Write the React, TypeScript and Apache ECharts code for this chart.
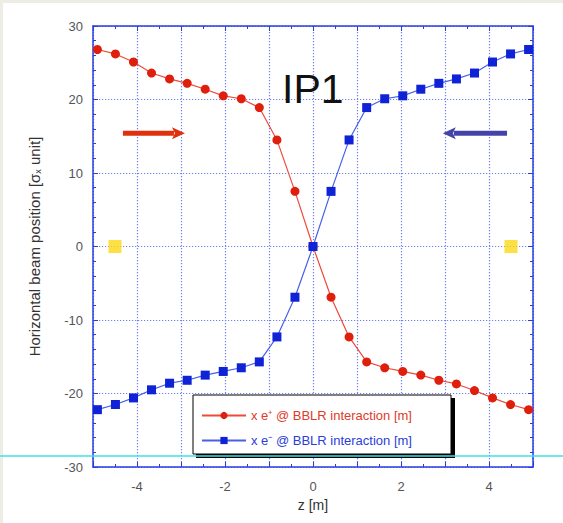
import React, { useEffect, useRef } from "react";
import * as echarts from "echarts";

const zPositions = [-4.9, -4.49, -4.08, -3.67, -3.26, -2.86, -2.45, -2.04, -1.63, -1.22, -0.82, -0.41, 0, 0.41, 0.82, 1.22, 1.63, 2.04, 2.45, 2.86, 3.26, 3.67, 4.08, 4.49, 4.9];
const ePlus = [26.8, 26.2, 25.1, 23.6, 22.8, 22.2, 21.4, 20.5, 20.1, 18.9, 14.5, 7.5, 0, -6.9, -12.3, -15.7, -16.5, -17.0, -17.5, -18.2, -18.7, -19.6, -20.6, -21.5, -22.2];
const eMinus = [-22.2, -21.5, -20.6, -19.5, -18.6, -18.2, -17.5, -17.0, -16.5, -15.7, -12.3, -6.9, 0, 7.5, 14.5, 18.9, 20.1, 20.5, 21.4, 22.2, 22.8, 23.6, 25.1, 26.2, 26.8];
const ipMarkers = [[-4.5, 0], [4.5, 0]];
// arrows: [fromZ, fromY, toZ, toY]
const arrows = [
  [-4.32, 15.4, -2.91, 15.4],
  [4.41, 15.4, 2.95, 15.4],
];
const arrowColors = ["#e0300e", "#4444a8"];
const xTicks = [-4, -2, 0, 2, 4];
const seriesNames = ["x e\u207A @ BBLR interaction [m]", "x e\u207B @ BBLR interaction [m]"];

const FONT = "Liberation Sans, Arial, Helvetica, sans-serif";
const AXIS_BLUE = "#2a3ee0";
const GRID_BLUE = "#6f7ff0";

export default function App() {
  const ref = useRef<HTMLDivElement>(null);
  useEffect(() => {
    if (!ref.current) return;
    const chart = echarts.init(ref.current, null, { renderer: "svg" });
    const tickCommon = {
      axisLine: { show: true, onZero: false, lineStyle: { color: AXIS_BLUE, width: 1.5 } },
      axisTick: { show: true, inside: true, length: 5, lineStyle: { color: AXIS_BLUE } },
    };
    const gridLine = { show: true, lineStyle: { color: GRID_BLUE, type: [1.2, 1.8], width: 1.2 } };
    chart.setOption({
      animation: false,
      backgroundColor: "transparent",
      textStyle: { fontFamily: FONT },
      grid: { left: 93, right: 30, top: 26, bottom: 56, containLabel: false },
      legend: {
        data: [
          { name: seriesNames[0], textStyle: { color: "#e03a2a" } },
          { name: seriesNames[1], textStyle: { color: "#2a3ed8" } },
        ],
        orient: "vertical",
        left: 201,
        top: 409,
        itemWidth: 44,
        itemHeight: 9,
        itemGap: 12,
        padding: 0,
        z: 10,
        textStyle: { fontSize: 13, fontFamily: FONT },
      },
      xAxis: [
        {
          type: "value",
          min: -5,
          max: 5,
          interval: 1,
          name: "z [m]",
          nameLocation: "middle",
          nameGap: 31,
          nameTextStyle: { color: "#333", fontSize: 14, fontFamily: FONT },
          ...tickCommon,
          minorTick: { show: true, splitNumber: 2, length: 3, lineStyle: { color: AXIS_BLUE } },
          axisLabel: {
            color: "#555",
            fontSize: 13,
            margin: 13,
            formatter: (v: number) => (xTicks.indexOf(Math.round(v)) >= 0 && Math.abs(v - Math.round(v)) < 1e-6 ? String(Math.round(v)) : ""),
          },
          splitLine: gridLine,
        },
        {
          type: "value",
          position: "top",
          min: -5,
          max: 5,
          interval: 1,
          ...tickCommon,
          minorTick: { show: true, splitNumber: 2, length: 3, lineStyle: { color: AXIS_BLUE } },
          axisLabel: { show: false },
          splitLine: { show: false },
        },
      ],
      yAxis: [
        {
          type: "value",
          min: -30,
          max: 30,
          interval: 10,
          name: "Horizontal beam position [\u03C3{sub|x} unit]",
          nameLocation: "middle",
          nameRotate: 90,
          nameGap: 51,
          nameTextStyle: {
            color: "#333",
            fontSize: 15,
            fontFamily: FONT,
            rich: { sub: { fontSize: 9, color: "#333", verticalAlign: "bottom", padding: [7, 0, 0, 0] } },
          },
          ...tickCommon,
          minorTick: { show: true, splitNumber: 5, length: 3, lineStyle: { color: AXIS_BLUE } },
          axisLabel: { color: "#555", fontSize: 13, margin: 10 },
          splitLine: gridLine,
        },
        {
          type: "value",
          position: "right",
          min: -30,
          max: 30,
          interval: 10,
          ...tickCommon,
          minorTick: { show: true, splitNumber: 5, length: 3, lineStyle: { color: AXIS_BLUE } },
          axisLabel: { show: false },
          splitLine: { show: false },
        },
      ],
      series: [
        {
          name: seriesNames[0],
          type: "line",
          xAxisIndex: 0,
          yAxisIndex: 0,
          data: zPositions.map((z, i) => [z, ePlus[i]]),
          symbol: "circle",
          symbolSize: 9,
          itemStyle: { color: "#e01e0c" },
          lineStyle: { color: "#ee4a3a", width: 1.2 },
          z: 3,
        },
        {
          name: seriesNames[1],
          type: "line",
          xAxisIndex: 0,
          yAxisIndex: 0,
          data: zPositions.map((z, i) => [z, eMinus[i]]),
          symbol: "rect",
          symbolSize: 9,
          itemStyle: { color: "#0f22d6" },
          lineStyle: { color: "#4660e8", width: 1.2 },
          z: 4,
        },
        {
          name: "IP",
          type: "scatter",
          xAxisIndex: 0,
          yAxisIndex: 0,
          data: ipMarkers,
          symbol: "rect",
          symbolSize: 13,
          itemStyle: { color: "#fcd816" },
          silent: true,
        },
        {
          name: "arrows",
          type: "custom",
          xAxisIndex: 0,
          yAxisIndex: 0,
          silent: true,
          data: arrows,
          renderItem: (params: any, api: any) => {
            const p1 = api.coord([api.value(0), api.value(1)]);
            const p2 = api.coord([api.value(2), api.value(3)]);
            const d = p2[0] > p1[0] ? 1 : -1;
            const head = 13;
            const hw = 6;
            const color = arrowColors[params.dataIndex];
            return {
              type: "group",
              children: [
                {
                  type: "line",
                  shape: { x1: p1[0], y1: p1[1], x2: p2[0] - d * (head - 2), y2: p2[1] },
                  style: { stroke: color, lineWidth: 5 },
                },
                {
                  type: "polygon",
                  shape: {
                    points: [
                      [p2[0], p2[1]],
                      [p2[0] - d * head, p2[1] - hw],
                      [p2[0] - d * (head - 3), p2[1]],
                      [p2[0] - d * head, p2[1] + hw],
                    ],
                  },
                  style: { fill: color },
                },
              ],
            };
          },
          z: 5,
        },
      ],
      graphic: [
        {
          type: "text",
          left: 282,
          top: 68,
          z: 10,
          style: { text: "IP1", fontSize: 41, fontFamily: FONT, fill: "#111" },
        },
        {
          type: "rect",
          z: 6,
          shape: { x: 196, y: 398, width: 259, height: 60 },
          style: { fill: "#000" },
          silent: true,
        },
        {
          type: "rect",
          z: 7,
          shape: { x: 193, y: 395, width: 258, height: 59 },
          style: { fill: "#fff", stroke: "#000", lineWidth: 1 },
          silent: true,
        },
        {
          type: "line",
          z: 100,
          shape: { x1: -5, y1: 456, x2: 570, y2: 456 },
          style: { stroke: "#3fe0ee", lineWidth: 1.5 },
          silent: true,
        },
      ],
    });
    return () => chart.dispose();
  }, []);
  return (
    <div style={{ position: "fixed", left: 0, top: 0, width: 563, height: 523, background: "#eeede3" }}>
      <div style={{ position: "absolute", left: 3, top: 3, width: 560, height: 520, background: "#ffffff" }} />
      <div ref={ref} style={{ position: "absolute", left: 0, top: 0, width: 563, height: 523 }} />
    </div>
  );
}
